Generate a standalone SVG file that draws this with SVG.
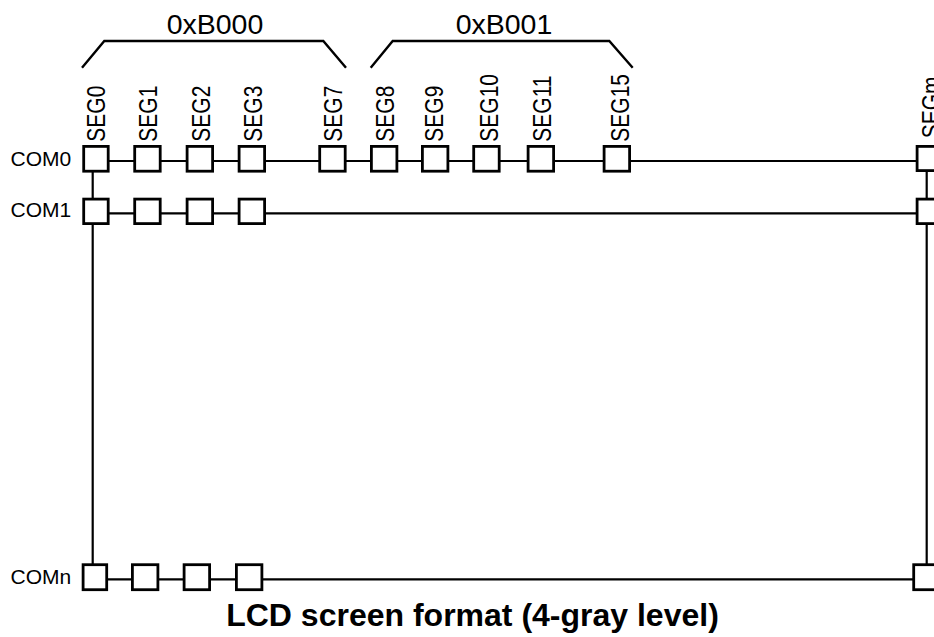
<svg xmlns="http://www.w3.org/2000/svg" width="934" height="637" viewBox="0 0 934 637">
<style>
.ln{stroke:#000;stroke-width:2.2;fill:none}
.br{stroke:#000;stroke-width:2.4;fill:none}
.bx{fill:#fff;stroke:#000;stroke-width:2.8}
.seg{font-family:"Liberation Sans",Arial,sans-serif;font-size:25px;fill:#000}
.com{font-family:"Liberation Sans",Arial,sans-serif;font-size:21px;fill:#000}
.addr{font-family:"Liberation Sans",Arial,sans-serif;font-size:28.5px;fill:#000;text-anchor:middle}
.title{font-family:"Liberation Sans",Arial,sans-serif;font-size:32px;font-weight:bold;fill:#000;text-anchor:middle}
</style>
<rect width="934" height="637" fill="#fff"/>
<g id="connectors">
<line class="ln" x1="95" y1="161" x2="925" y2="161"/>
<line class="ln" x1="95" y1="213.3" x2="925" y2="213.3"/>
<line class="ln" x1="95" y1="579.3" x2="925" y2="579.3"/>
<line class="ln" x1="92.7" y1="170" x2="92.7" y2="566"/>
<line class="ln" x1="926.7" y1="168" x2="926.7" y2="566"/>
</g>
<g id="brackets">
<polyline class="br" points="82,67.7 104.3,41 323.3,41 346,67.7"/>
<polyline class="br" points="370.7,67.7 392.7,41 609.3,41 632.7,67.7"/>
<text class="addr" x="215" y="34.3">0xB000</text>
<text class="addr" x="504" y="34.3">0xB001</text>
</g>
<g id="com-labels">
<text class="com" x="10.5" y="165.7">COM0</text>
<text class="com" x="10.5" y="217.3">COM1</text>
<text class="com" x="10.5" y="584.3">COMn</text>
</g>
<g id="row-com0">
<rect class="bx" x="83.7" y="146.4" width="24.5" height="24.8"/>
<rect class="bx" x="134.7" y="146.4" width="25.5" height="24.8"/>
<rect class="bx" x="187.1" y="146.4" width="25.5" height="24.8"/>
<rect class="bx" x="239.1" y="146.4" width="25.5" height="24.8"/>
<rect class="bx" x="319.7" y="146.4" width="25.5" height="24.8"/>
<rect class="bx" x="371.4" y="146.4" width="25.5" height="24.8"/>
<rect class="bx" x="422.4" y="146.4" width="25.5" height="24.8"/>
<rect class="bx" x="473.7" y="146.4" width="25.5" height="24.8"/>
<rect class="bx" x="528.1" y="146.4" width="25.5" height="24.8"/>
<rect class="bx" x="604.1" y="146.4" width="25.5" height="24.8"/>
<rect class="bx" x="917.1" y="146.4" width="25.5" height="24.2"/>
</g>
<g id="row-com1">
<rect class="bx" x="83.7" y="199.1" width="24.5" height="24.5"/>
<rect class="bx" x="134.7" y="199.1" width="25.5" height="24.5"/>
<rect class="bx" x="187.1" y="199.1" width="25.5" height="24.5"/>
<rect class="bx" x="239.1" y="199.1" width="25.5" height="24.5"/>
<rect class="bx" x="917.1" y="199.1" width="25.5" height="24.5"/>
</g>
<g id="row-comn">
<rect class="bx" x="83.1" y="564.7" width="23.6" height="25"/>
<rect class="bx" x="132.4" y="564.7" width="25.5" height="25"/>
<rect class="bx" x="184.1" y="564.7" width="25.5" height="25"/>
<rect class="bx" x="236.4" y="564.7" width="25.5" height="25"/>
<rect class="bx" x="913.7" y="564.7" width="25.5" height="25"/>
</g>
<g id="seg-labels">
<text class="seg" transform="translate(105,141.7) rotate(-90) scale(0.84,1)">SEG0</text>
<text class="seg" transform="translate(157.3,141.7) rotate(-90) scale(0.84,1)">SEG1</text>
<text class="seg" transform="translate(210,141.7) rotate(-90) scale(0.84,1)">SEG2</text>
<text class="seg" transform="translate(262.3,141.7) rotate(-90) scale(0.84,1)">SEG3</text>
<text class="seg" transform="translate(342,141.7) rotate(-90) scale(0.84,1)">SEG7</text>
<text class="seg" transform="translate(394,141.7) rotate(-90) scale(0.84,1)">SEG8</text>
<text class="seg" transform="translate(443,141.7) rotate(-90) scale(0.84,1)">SEG9</text>
<text class="seg" transform="translate(498.3,141.7) rotate(-90) scale(0.84,1)">SEG10</text>
<text class="seg" transform="translate(550.7,141.7) rotate(-90) scale(0.84,1)">SEG11</text>
<text class="seg" transform="translate(628.7,141.7) rotate(-90) scale(0.84,1)">SEG15</text>
<text class="seg" transform="translate(940,138.3) rotate(-90) scale(0.84,1)">SEGm</text>
</g>
<text class="title" x="472.5" y="626">LCD screen format (4-gray level)</text>
</svg>
